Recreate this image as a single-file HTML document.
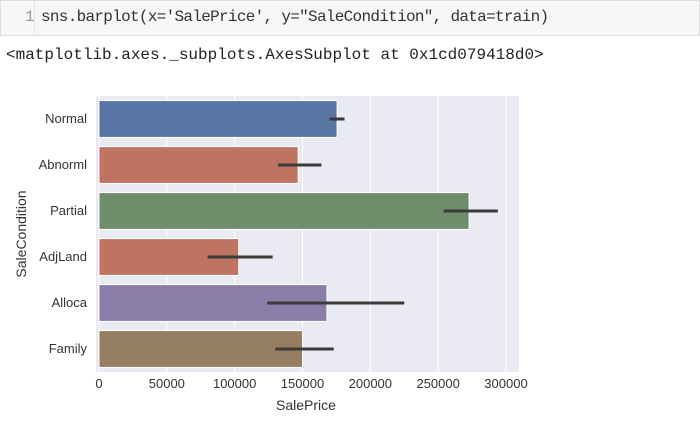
<!DOCTYPE html>
<html><head><meta charset="utf-8"><style>
body{margin:0;width:700px;height:429px;background:#fff;overflow:hidden;font-family:"Liberation Sans",sans-serif}
.cell{position:absolute;left:0;top:0;width:698px;height:34px;background:#f7f7f7;border:1px solid #ddd;}
.ln{position:absolute;left:24px;top:7px;font:16px "Liberation Mono",monospace;color:#999}
.sep{position:absolute;left:33px;top:0;height:34px;border-left:1px solid #e6e6e6}
.code{position:absolute;left:40px;top:7px;font:16px "Liberation Mono",monospace;color:#333;letter-spacing:-0.7px}
.out{position:absolute;left:6px;top:46px;font:16px "Liberation Mono",monospace;color:#222;letter-spacing:0px}
</style></head><body>
<div class="cell">
<span class="ln">1</span><span class="sep"></span>
<span class="code">sns.barplot(x='SalePrice', y="SaleCondition", data=train)</span></div>
<div class="out">&lt;matplotlib.axes._subplots.AxesSubplot at 0x1cd079418d0&gt;</div>
<svg id="chart" width="700" height="429" style="position:absolute;left:0;top:0"></svg>
<script>
const categories=["Normal","Abnorml","Partial","AdjLand","Alloca","Family"];
const values=[175500,146800,272800,103000,168000,150000];
const errLow=[170000,132000,254000,80000,124000,130000];
const errHigh=[181000,164000,294000,128000,225000,173000];
const colors=["#5875a4","#bf7462","#6e8d6a","#bf7462","#8a7ea9","#967e62"];
const xTicks=[0,50000,100000,150000,200000,250000,300000];
const L=99,R=519,T=96,B=372,XMAX=300000,XPX=506;
const xs=v=>L+v*(XPX-L)/XMAX;
const band=(B-T)/categories.length;
const yc=i=>T+band*(i+0.5);
const svg=document.getElementById('chart');
const NS="http://www.w3.org/2000/svg";
function mk(t,a){const e=document.createElementNS(NS,t);for(const k in a)e.setAttribute(k,a[k]);svg.appendChild(e);return e;}
let bg=mk('rect',{x:L-3,y:T,width:R-L+3,height:B-T,fill:'#eaeaf2'});


xTicks.forEach(t=>{
 let g=mk('line',{x1:xs(t),x2:xs(t),y1:T,y2:B,stroke:'#fff','stroke-width':1});
 
 
 let tx=mk('text',{x:xs(t),y:388,'text-anchor':'middle','font-size':13,fill:'#333'});
 tx.textContent=t;
 
 
});
categories.forEach((c,i)=>{
 const h=band*0.8;
 let r=mk('rect',{x:xs(0),y:yc(i)-h/2,width:xs(values[i])-xs(0),height:h,fill:colors[i],stroke:'#fff','stroke-width':1});
 
 
 let e=mk('line',{x1:xs(errLow[i]),x2:xs(errHigh[i]),y1:yc(i),y2:yc(i),stroke:'#3a3a3a','stroke-width':3});
 
 
 let tx=mk('text',{x:L-12,y:yc(i)+4,'text-anchor':'end','font-size':13,fill:'#333'});
 tx.textContent=c;
 
 
});
let xl=mk('text',{x:(L+R)/2-3,y:410,'text-anchor':'middle','font-size':14,fill:'#333'});
xl.textContent='SalePrice';


let yl=mk('text',{x:0,y:0,'text-anchor':'middle','font-size':14,fill:'#333',transform:'translate(26,'+(T+B)/2+') rotate(-90)'});
yl.textContent='SaleCondition';


</script>
</body></html>
